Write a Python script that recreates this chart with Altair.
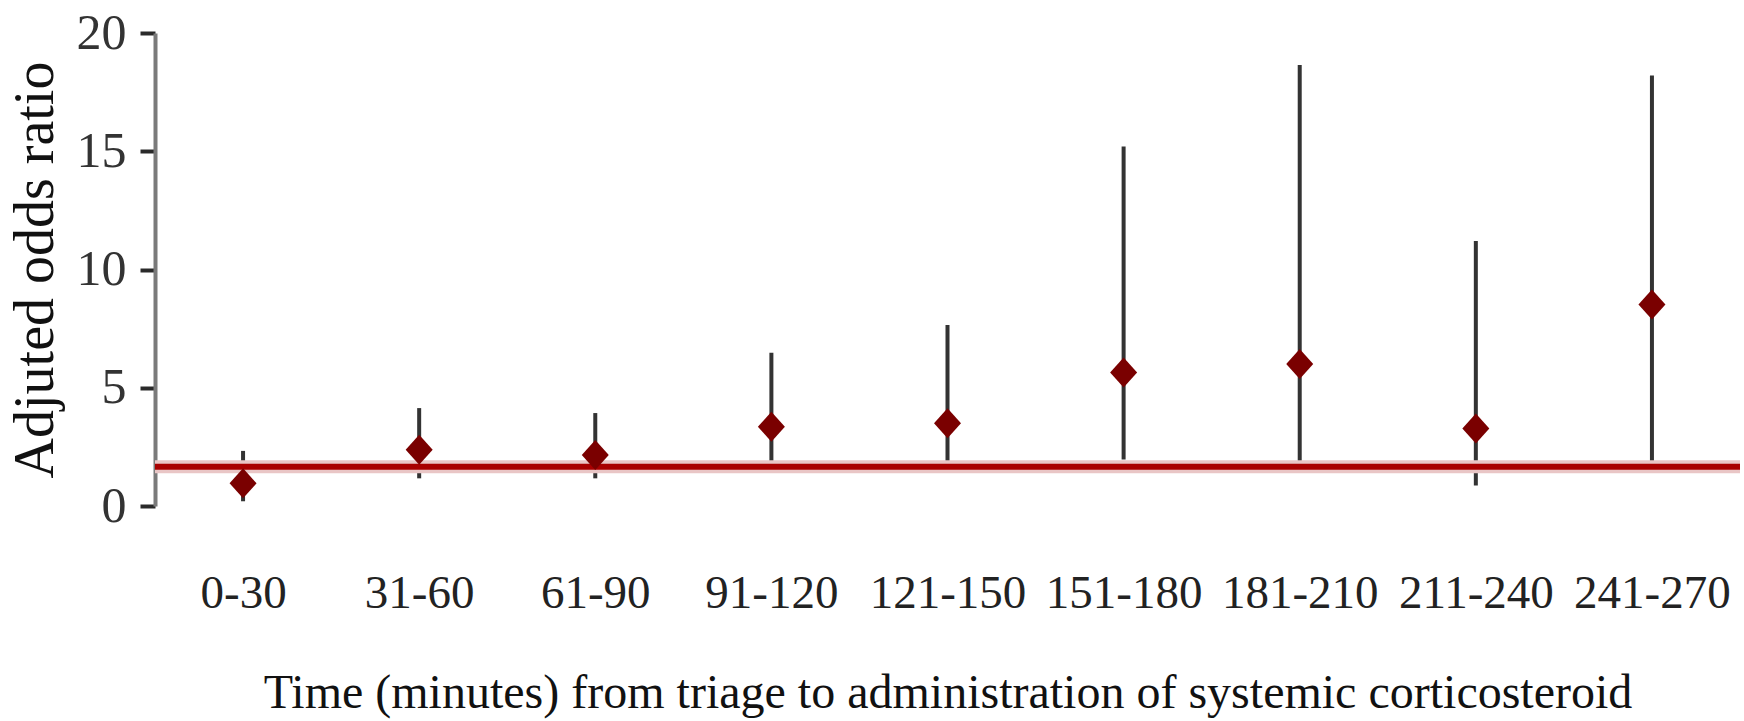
import altair as alt
import pandas as pd

# Time windows (minutes from triage to systemic corticosteroid)
groups = ["0-30", "31-60", "61-90", "91-120", "121-150",
          "151-180", "181-210", "211-240", "241-270"]
# Adjusted odds ratio and its confidence interval per window
odds = [0.96, 2.38, 2.16, 3.35, 3.50, 5.64, 6.00, 3.28, 8.52]
lower = [0.20, 1.17, 1.17, 1.70, 1.43, 1.97, 1.70, 0.87, 1.70]
upper = [2.33, 4.14, 3.93, 6.48, 7.65, 15.20, 18.65, 11.20, 18.20]
# Horizontal reference line
ref_value = [1.66]
y_ticks = [0, 5, 10, 15, 20]

df = pd.DataFrame({"group": groups, "odds": odds, "lower": lower, "upper": upper})
ref = pd.DataFrame({"ref": ref_value})

FONT = "Liberation Serif"
W, H = 1585, 473

x_enc = alt.X(
    "group:N",
    sort=groups,
    scale=alt.Scale(type="point", padding=0.5),
    axis=alt.Axis(
        title="Time (minutes) from triage to administration of systemic corticosteroid",
        titleFont=FONT, titleFontSize=48, titleFontWeight="normal", titleColor="#111111",
        titleBaseline="alphabetic", titleX=W / 2, titleY=201, titleAlign="center",
        labelFont=FONT, labelFontSize=47, labelColor="#222222",
        labelBaseline="alphabetic", labelPadding=101, labelAngle=0,
        ticks=False, tickSize=0, domain=False, grid=False,
    ),
)

y_scale = alt.Scale(domain=[0, 20], nice=False, zero=True)
y_axis = alt.Axis(
    title="Adjuted odds ratio",
    titleFont=FONT, titleFontSize=56, titleFontWeight="normal", titleColor="#111111",
    titleBaseline="alphabetic", titleX=-103, titleY=H / 2, titleAngle=-90,
    labelFont=FONT, labelFontSize=50, labelColor="#333333", labelPadding=14,
    values=y_ticks, tickSize=15, tickWidth=4, tickColor="#2a2a2a",
    domainColor="#7a7a7a", domainWidth=4, grid=False,
)

bars = alt.Chart(df).mark_rule(color="#333333", strokeWidth=4).encode(
    x=x_enc,
    y=alt.Y("lower:Q", scale=y_scale, axis=y_axis),
    y2="upper:Q",
)

halo = alt.Chart(ref).mark_rule(color="#e9c6c6", strokeWidth=13).encode(
    y=alt.Y("ref:Q", scale=y_scale),
    x=alt.value(0), x2=alt.value(W),
)
line = alt.Chart(ref).mark_rule(color="#a80000", strokeWidth=6).encode(
    y=alt.Y("ref:Q", scale=y_scale),
    x=alt.value(0), x2=alt.value(W),
)

points = alt.Chart(df).mark_point(
    shape="M-0.9,0L0,-1L0.9,0L0,1Z", size=900, filled=True,
    color="#7a0000", opacity=1, strokeWidth=0,
).encode(
    x=alt.X("group:N", sort=groups),
    y=alt.Y("odds:Q", scale=y_scale),
)

chart = alt.layer(bars, halo, line, points).properties(
    width=W, height=H,
    autosize=alt.AutoSizeParams(type="none"),
    padding={"left": 155, "top": 33, "right": 4, "bottom": 215},
    background="white",
).configure_view(stroke=None)

chart.save("out.html", embed_options={"renderer": "svg", "actions": False})
